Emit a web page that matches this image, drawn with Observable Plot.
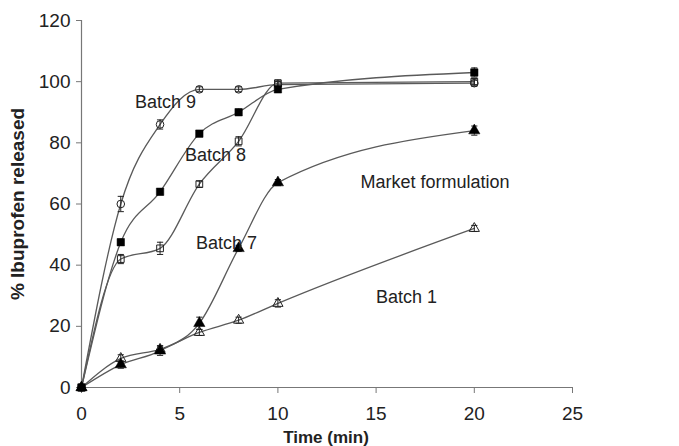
<!DOCTYPE html>
<html>
<head>
<meta charset="utf-8">
<script src="https://cdn.jsdelivr.net/npm/d3@7"></script>
<script src="https://cdn.jsdelivr.net/npm/@observablehq/plot@0.6"></script>
<style>
  html, body { margin: 0; padding: 0; background: #fff; }
  #chart { width: 679px; height: 446px; }
</style>
</head>
<body>
<div id="chart"></div>
<script>
// ---- data ----
const time = [0, 2, 4, 6, 8, 10, 20];
const batch1 = [0, 9.5, 12.5, 18, 22, 27.5, 52];
const batch1Err = [0, 1.2, 1.2, 1.0, 1.0, 1.2, 1.0];
const market = [0, 7.5, 12, 21, 45.5, 67, 84];
const marketErr = [0, 1.2, 1.5, 2.0, 1.0, 1.0, 1.5];
const batch7 = [0, 42, 45.5, 66.5, 80.5, 99.5, 100];
const batch7Err = [0, 1.5, 2.0, 1.0, 1.5, 1.0, 1.0];
const batch9 = [0, 60, 86, 97.5, 97.5, 99, 99.5];
const batch9Err = [0, 2.5, 1.5, 0.8, 0.8, 1.0, 1.0];
const batch8 = [0, 47.5, 64, 83, 90, 97.5, 103];
const batch8Err = [0, 1.0, 1.0, 1.0, 1.0, 1.0, 1.5];

const seriesNames = ["Batch 1", "Market formulation", "Batch 7", "Batch 9", "Batch 8"];
const seriesValues = [batch1, market, batch7, batch9, batch8];
const seriesErrors = [batch1Err, marketErr, batch7Err, batch9Err, batch8Err];
const seriesSymbols = ["triangle", "triangle", "square", "circle", "square"];
const seriesFilled = [false, true, false, false, true];

const xTicks = [0, 5, 10, 15, 20, 25];
const yTicks = [0, 20, 40, 60, 80, 100, 120];

const labelText = ["Batch 9", "Batch 8", "Batch 7", "Market formulation", "Batch 1"];
const labelX = [4.28, 6.82, 7.38, 18.0, 16.55];
const labelY = [93.2, 75.9, 47.1, 67.0, 29.4];

// ---- build tables ----
const rows = [];
seriesNames.forEach((name, i) => {
  time.forEach((t, j) => {
    rows.push({series: name, order: i, t, v: seriesValues[i][j], e: seriesErrors[i][j],
               symbol: seriesSymbols[i], filled: seriesFilled[i]});
  });
});
const labels = labelText.map((text, i) => ({text, x: labelX[i], y: labelY[i]}));

const capSymbol = {
  draw(ctx, size) {
    const r = Math.sqrt(size) / 2;
    ctx.moveTo(-r, 0);
    ctx.lineTo(r, 0);
  }
};

const font = "'Liberation Sans', Arial, Helvetica, sans-serif";
const lineColor = "#5a5a5a";

const chart = Plot.plot({
  width: 679,
  height: 446,
  marginLeft: 81,
  marginRight: 107,
  marginTop: 20,
  marginBottom: 59,
  style: {fontFamily: font, background: "#fff", color: "#222"},
  x: {domain: [0, 25], axis: null},
  y: {domain: [0, 120], axis: null},
  marks: [
    // axes lines
    Plot.ruleX([0], {stroke: "#777", strokeWidth: 1.2}),
    Plot.ruleY([0], {stroke: "#777", strokeWidth: 1.2}),
    Plot.axisX({ticks: xTicks, tickSize: 6, tickPadding: 13, fontSize: 19, stroke: "#777",
                fill: "#222", label: null, tickFormat: d => String(d)}),
    Plot.axisY({ticks: yTicks, tickSize: 5, tickPadding: 6, fontSize: 19, stroke: "#777",
                fill: "#222", label: null, tickFormat: d => String(d)}),
    // series lines
    Plot.line(rows, {x: "t", y: "v", z: "series", curve: "monotone-x",
                     stroke: lineColor, strokeWidth: 1.3}),
    // error bars
    Plot.ruleX(rows.filter(d => d.e > 0), {x: "t", y1: d => d.v - d.e, y2: d => d.v + d.e,
                     stroke: "#222", strokeWidth: 1}),
    Plot.dot(rows.filter(d => d.e > 0), {x: "t", y: d => d.v + d.e, symbol: capSymbol, r: 3.5,
                     stroke: "#222", strokeWidth: 1, fill: "none"}),
    Plot.dot(rows.filter(d => d.e > 0), {x: "t", y: d => d.v - d.e, symbol: capSymbol, r: 3.5,
                     stroke: "#222", strokeWidth: 1, fill: "none"}),
    // open markers
    Plot.dot(rows.filter(d => !d.filled), {x: "t", y: "v", symbol: "symbol", r: 3.8,
                     stroke: "#222", strokeWidth: 1, fill: "none"}),
    // filled markers
    Plot.dot(rows.filter(d => d.filled), {x: "t", y: "v", symbol: "symbol", r: 4.2,
                     stroke: "#000", strokeWidth: 0.5, fill: "#000"}),
    // series labels
    Plot.text(labels, {x: "x", y: "y", text: "text", fontSize: 18, fill: "#222",
                       textAnchor: "middle"})
  ]
});

const svg = d3.select(chart);
// axis titles
svg.append("text")
  .attr("x", 326).attr("y", 443)
  .attr("text-anchor", "middle")
  .style("font-family", font).style("font-size", "17px").style("font-weight", "bold")
  .attr("fill", "#222")
  .text("Time (min)");
svg.append("text")
  .attr("transform", "translate(24,204) rotate(-90)")
  .attr("text-anchor", "middle")
  .style("font-family", font).style("font-size", "19px").style("font-weight", "bold")
  .attr("fill", "#222")
  .text("% Ibuprofen released");

document.getElementById("chart").appendChild(chart);
</script>
</body>
</html>
